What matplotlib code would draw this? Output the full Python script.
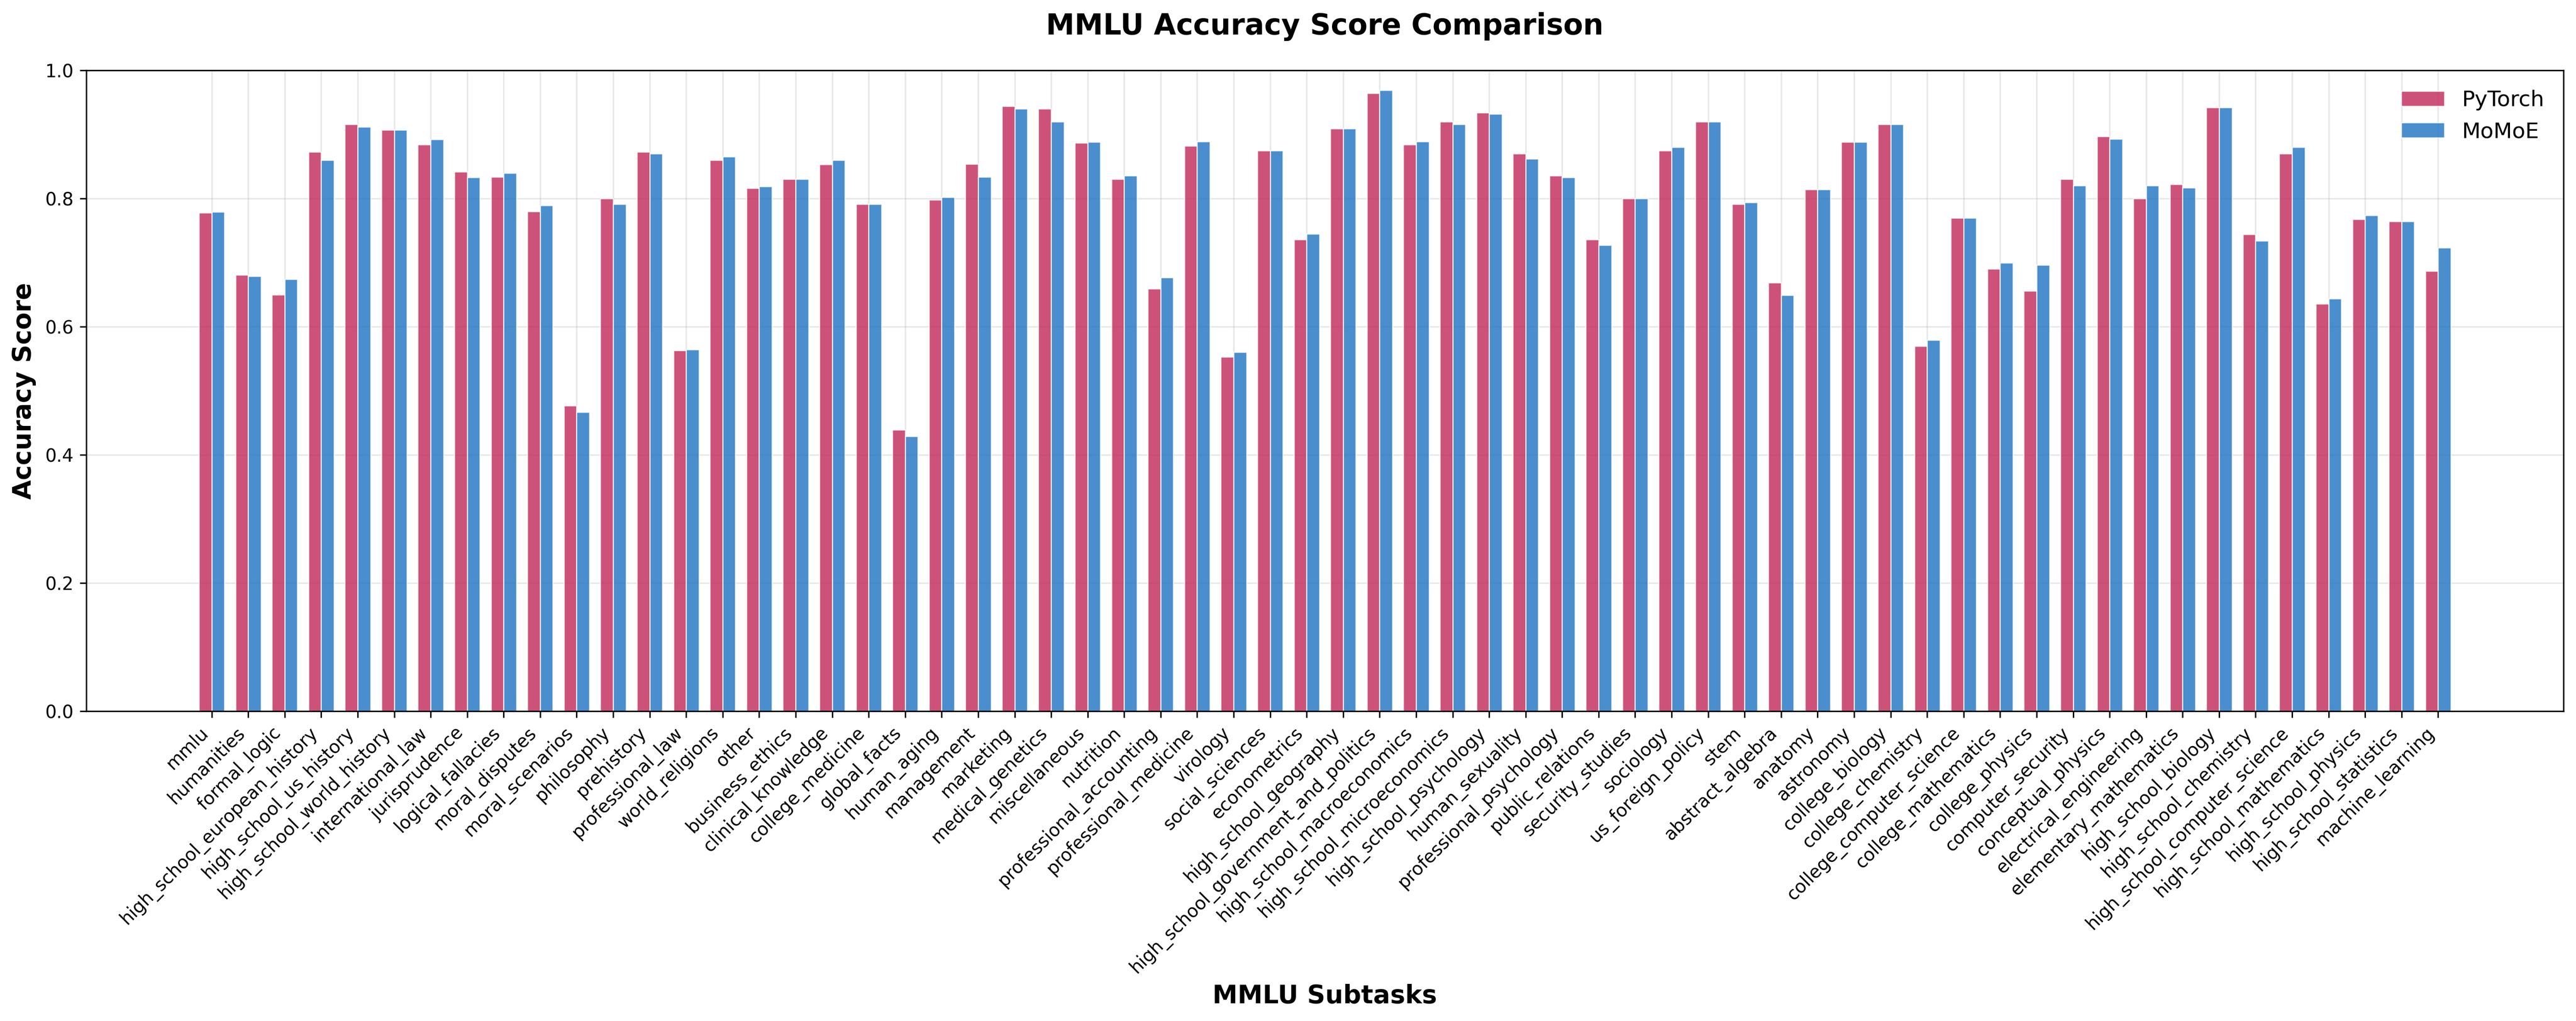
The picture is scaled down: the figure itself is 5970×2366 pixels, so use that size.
import matplotlib
matplotlib.use("Agg")
import matplotlib.pyplot as plt
import numpy as np

categories = [
    "mmlu", "humanities", "formal_logic", "high_school_european_history",
    "high_school_us_history", "high_school_world_history", "international_law",
    "jurisprudence", "logical_fallacies", "moral_disputes", "moral_scenarios",
    "philosophy", "prehistory", "professional_law", "world_religions", "other",
    "business_ethics", "clinical_knowledge", "college_medicine", "global_facts",
    "human_aging", "management", "marketing", "medical_genetics", "miscellaneous",
    "nutrition", "professional_accounting", "professional_medicine", "virology",
    "social_sciences", "econometrics", "high_school_geography",
    "high_school_government_and_politics", "high_school_macroeconomics",
    "high_school_microeconomics", "high_school_psychology", "human_sexuality",
    "professional_psychology", "public_relations", "security_studies", "sociology",
    "us_foreign_policy", "stem", "abstract_algebra", "anatomy", "astronomy",
    "college_biology", "college_chemistry", "college_computer_science",
    "college_mathematics", "college_physics", "computer_security",
    "conceptual_physics", "electrical_engineering", "elementary_mathematics",
    "high_school_biology", "high_school_chemistry", "high_school_computer_science",
    "high_school_mathematics", "high_school_physics", "high_school_statistics",
    "machine_learning",
]

pytorch = [
    0.778, 0.681, 0.650, 0.873, 0.916, 0.907, 0.884, 0.842, 0.834, 0.780, 0.477,
    0.800, 0.873, 0.563, 0.860, 0.816, 0.830, 0.853, 0.791, 0.439, 0.798, 0.854,
    0.944, 0.940, 0.887, 0.830, 0.659, 0.882, 0.553, 0.875, 0.736, 0.909, 0.964,
    0.884, 0.920, 0.934, 0.870, 0.836, 0.736, 0.800, 0.875, 0.920, 0.791, 0.669,
    0.814, 0.888, 0.916, 0.570, 0.770, 0.690, 0.656, 0.830, 0.897, 0.800, 0.822,
    0.942, 0.744, 0.870, 0.636, 0.768, 0.764, 0.687,
]

momoe = [
    0.779, 0.679, 0.674, 0.860, 0.912, 0.907, 0.892, 0.833, 0.840, 0.789, 0.467,
    0.791, 0.870, 0.564, 0.865, 0.819, 0.830, 0.860, 0.791, 0.429, 0.802, 0.834,
    0.940, 0.920, 0.888, 0.836, 0.677, 0.889, 0.560, 0.875, 0.745, 0.909, 0.969,
    0.889, 0.916, 0.932, 0.862, 0.833, 0.727, 0.800, 0.880, 0.920, 0.794, 0.649,
    0.814, 0.888, 0.916, 0.579, 0.770, 0.700, 0.696, 0.820, 0.893, 0.820, 0.817,
    0.942, 0.734, 0.880, 0.644, 0.774, 0.764, 0.723,
]

series_names = ["PyTorch", "MoMoE"]
series_colors = ["#C12759", "#1D72C2"]

W, H, DPI = 5970, 2366, 300
fig = plt.figure(figsize=(W / DPI, H / DPI), dpi=DPI)
ax = fig.add_axes([200 / W, 1 - 1648 / H, (5941 - 200) / W, (1648 - 163) / H])

x = np.arange(len(categories))
width = 0.35
ax.bar(x - width / 2, pytorch, width, label=series_names[0], color=series_colors[0],
       alpha=0.8, edgecolor="white", linewidth=0.6)
ax.bar(x + width / 2, momoe, width, label=series_names[1], color=series_colors[1],
       alpha=0.8, edgecolor="white", linewidth=0.6)

ax.set_ylim(0, 1.0)
ax.set_yticks(np.arange(0, 1.01, 0.2))
ax.set_xticks(x)
ax.set_xticklabels(categories, rotation=45, ha="right", fontsize=10)
ax.tick_params(axis="y", labelsize=10)
ax.grid(True, alpha=0.3)
ax.set_axisbelow(True)

ax.set_title("MMLU Accuracy Score Comparison", fontsize=16, fontweight="bold", pad=20)
ax.set_xlabel("MMLU Subtasks", fontsize=14, fontweight="bold")
ax.set_ylabel("Accuracy Score", fontsize=14, fontweight="bold", labelpad=5)
ax.legend(loc="upper right", frameon=False, fontsize=12)

fig.savefig("out.png", dpi=DPI)
